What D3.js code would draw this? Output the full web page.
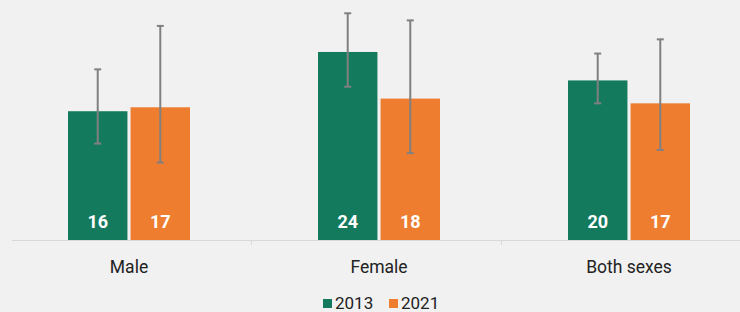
<!DOCTYPE html>
<html>
<head>
<meta charset="utf-8">
<script src="https://cdn.jsdelivr.net/npm/d3@7"></script>
<style>
  html, body { margin: 0; padding: 0; background: #f1f1f1; }
  svg { display: block; font-family: Roboto, "Noto Sans", sans-serif; }
</style>
</head>
<body>
<div id="chart"></div>
<script>
// data
var categories = ["Male", "Female", "Both sexes"];
var years = ["2013", "2021"];
var values2013 = [16.3, 23.8, 20.2];
var values2021 = [16.8, 17.9, 17.3];
var low2013  = [12.2, 19.4, 17.3];
var high2013 = [21.6, 28.7, 23.6];
var low2021  = [9.8, 11.0, 11.4];
var high2021 = [27.1, 27.8, 25.4];
var colors = ["#137a5e", "#ee7d30"];

var width = 740, height = 312;
var baseY = 240;

var svg = d3.select("#chart")
  .append("svg")
    .attr("width", width)
    .attr("height", height);

// build rows for drawing
var rows = [];
categories.forEach(function(c, i) {
  rows.push({cat: c, year: "2013", v: values2013[i], lo: low2013[i], hi: high2013[i]});
  rows.push({cat: c, year: "2021", v: values2021[i], lo: low2021[i], hi: high2021[i]});
});

var x = d3.scaleBand()
  .domain(categories)
  .range([4, 754])
  .paddingInner(0)
  .paddingOuter(0);

var xInner = d3.scaleBand()
  .domain(years)
  .range([0, 122])
  .paddingInner(0.05);

var y = d3.scaleLinear()
  .domain([0, 30])
  .range([baseY, baseY - 237]);

var color = d3.scaleOrdinal().domain(years).range(colors);

var groupLeft = function(d) { return x(d.cat) + (x.bandwidth() - 122) / 2; };

// baseline
svg.append("line")
  .attr("x1", 12).attr("x2", width)
  .attr("y1", baseY + 0.5).attr("y2", baseY + 0.5)
  .attr("stroke", "#d9d9d9");

// small ticks between categories
svg.selectAll(".tick-mark")
  .data(categories.slice(1))
  .enter()
  .append("line")
    .attr("x1", function(d) { return x(d) - 2.5; })
    .attr("x2", function(d) { return x(d) - 2.5; })
    .attr("y1", baseY)
    .attr("y2", baseY + 5)
    .attr("stroke", "#d9d9d9");

// bars
svg.selectAll(".bar")
  .data(rows)
  .enter()
  .append("rect")
    .attr("x", function(d) { return groupLeft(d) + xInner(d.year); })
    .attr("y", function(d) { return y(d.v); })
    .attr("width", xInner.bandwidth())
    .attr("height", function(d) { return baseY - y(d.v); })
    .attr("fill", function(d) { return color(d.year); });

// value labels
svg.selectAll(".val")
  .data(rows)
  .enter()
  .append("text")
    .attr("x", function(d) { return groupLeft(d) + xInner(d.year) + xInner.bandwidth() / 2; })
    .attr("y", 228)
    .attr("text-anchor", "middle")
    .attr("fill", "#ffffff")
    .style("font-size", "18px")
    .style("font-weight", "bold")
    .text(function(d) { return Math.round(d.v); });

// error bars
var err = svg.selectAll(".err")
  .data(rows)
  .enter()
  .append("g")
    .attr("transform", function(d) {
      return "translate(" + (groupLeft(d) + xInner(d.year) + xInner.bandwidth() / 2) + ",0)";
    });
err.append("line")
  .attr("y1", function(d) { return y(d.hi); })
  .attr("y2", function(d) { return y(d.lo); })
  .attr("stroke", "#808080")
  .attr("stroke-width", 2);
err.append("line")
  .attr("x1", -3.5).attr("x2", 3.5)
  .attr("y1", function(d) { return y(d.hi); })
  .attr("y2", function(d) { return y(d.hi); })
  .attr("stroke", "#808080")
  .attr("stroke-width", 2);
err.append("line")
  .attr("x1", -3.5).attr("x2", 3.5)
  .attr("y1", function(d) { return y(d.lo); })
  .attr("y2", function(d) { return y(d.lo); })
  .attr("stroke", "#808080")
  .attr("stroke-width", 2);

// category labels
svg.selectAll(".cat")
  .data(categories)
  .enter()
  .append("text")
    .attr("x", function(d) { return x(d) + x.bandwidth() / 2; })
    .attr("y", 273)
    .attr("text-anchor", "middle")
    .attr("fill", "#222")
    .style("font-size", "17.5px")
    .text(function(d) { return d; });

// legend
var legend = svg.selectAll(".legend")
  .data(years)
  .enter()
  .append("g")
    .attr("transform", function(d, i) { return "translate(" + (323 + i * 66) + ",0)"; });
legend.append("rect")
  .attr("x", 0).attr("y", 299)
  .attr("width", 9).attr("height", 9)
  .attr("fill", function(d) { return color(d); });
legend.append("text")
  .attr("x", 12).attr("y", 308.5)
  .attr("fill", "#222")
  .style("font-size", "17px")
  .text(function(d) { return d; });
</script>
</body>
</html>
